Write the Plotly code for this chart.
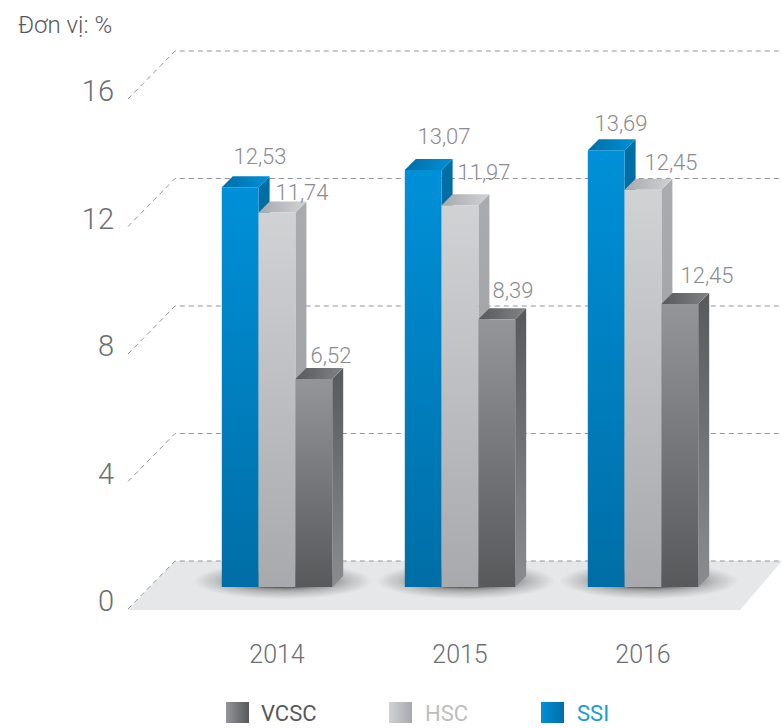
import math
import plotly.graph_objects as go

years = ["2014", "2015", "2016"]
ssi = [12.53, 13.07, 13.69]
hsc = [11.74, 11.97, 12.45]
vcsc = [6.52, 8.39, 8.87]
ssi_labels = ["12,53", "13,07", "13,69"]
hsc_labels = ["11,74", "11,97", "12,45"]
vcsc_labels = ["6,52", "8,39", "12,45"]
y_ticks = [0, 4, 8, 12, 16]

W, H = 782, 728
PX_Y = 31.9
PX_X = 183.0
X0_PX, Y0_PX = 277.0, 587.0
FONT = "Roboto, sans-serif"

# where each value label sits in the picture, in pixels
label_x_px = [260, 444, 621, 302, 484, 671, 331, 513, 707]
label_y_px = [158, 138, 125, 194, 174, 164, 357, 292, 277]

def dx(px):
    return px / PX_X
def dy(px):
    return px / PX_Y
def X(px):
    return (px - X0_PX) / PX_X
def Y(px):
    return (Y0_PX - px) / PX_Y

fig = go.Figure()

def poly(xs, ys, colors=None, solid=None, orient="vertical"):
    kw = dict(x=xs + xs[:1], y=ys + ys[:1], mode="lines", fill="toself",
              line=dict(width=0), hoverinfo="skip", showlegend=False)
    if colors:
        kw["fillgradient"] = dict(type=orient, colorscale=[[0, colors[0]], [1, colors[1]]])
        kw["fillcolor"] = "rgba(0,0,0,0)"
    else:
        kw["fillcolor"] = solid
    fig.add_trace(go.Scatter(**kw))

# floor
poly([X(128), X(175), X(782), X(740)], [Y(610), Y(561), Y(561), Y(610)], solid="#e6e7e8")

# back wall grid with diagonal returns
for t in y_ticks:
    back = Y(561) + t * (PX_Y - 0.025) / PX_Y
    fig.add_trace(go.Scatter(
        x=[X(128), X(175), X(782)],
        y=[back - dy(48), back, back],
        mode="lines", line=dict(color="#939598", width=1, dash="5px,4px"),
        hoverinfo="skip", showlegend=False))

# soft shadows below each group
for i in range(len(years)):
    cx = i + dx(6)
    cy = Y(581)
    n = 40
    for k in range(n):
        f = (1 - k / n) ** 3
        rx = dx(46 + 42 * f)
        ry = dy(7 + 11 * f)
        pts = [j * 2 * math.pi / 60 for j in range(60)]
        poly([cx + rx * math.cos(a) for a in pts], [cy + ry * math.sin(a) for a in pts],
             solid="rgba(40,40,40,0.024)")

# bars drawn back to front within each group
BAR_W = dx(36.8)
DEPTH_X, DEPTH_Y = dx(11), dy(11)
series = [
    (ssi, -1.5, ("#006ea6", "#0090d8"), ("#006ea6", "#0090d8"), ("#00689c", "#006ea6")),
    (hsc, -0.5, ("#a7a9ac", "#d1d2d4"), ("#a7a9ac", "#d1d2d4"), ("#9a9c9f", "#a9abae")),
    (vcsc, 0.5, ("#58595b", "#939598"), ("#58595b", "#818386"), ("#8a8c8f", "#58595b")),
]
for i in range(len(years)):
    for vals, off, front, top, side in series:
        v = vals[i]
        x0 = i + off * BAR_W
        x1 = x0 + BAR_W
        poly([x1, x1 + DEPTH_X, x1 + DEPTH_X, x1], [0, DEPTH_Y, v + DEPTH_Y, v], colors=side)
        poly([x0, x0 + DEPTH_X, x1 + DEPTH_X, x1], [v, v + DEPTH_Y, v + DEPTH_Y, v],
             colors=top, orient="horizontal")
        poly([x0, x1, x1, x0], [0, 0, v, v], colors=front)

# value labels
label_t = ssi_labels + hsc_labels + vcsc_labels
fig.add_trace(go.Scatter(x=[X(p) for p in label_x_px], y=[Y(p) for p in label_y_px],
                         text=label_t, mode="text",
                         textfont=dict(family=FONT, size=22, color="#8a8c8f", weight=300),
                         hoverinfo="skip", showlegend=False))

# tick-only trace for the offset value axis
fig.add_trace(go.Scatter(x=[0], y=[0], yaxis="y2", mode="markers", marker=dict(opacity=0),
                         hoverinfo="skip", showlegend=False))

# legend swatches
legend = [("VCSC", 226, 259, "#58595b", ("#939598", "#58595b"), 400),
          ("HSC", 389, 423, "#bcbec0", ("#d1d2d4", "#a7a9ac"), 400),
          ("SSI", 541, 575, "#1a9ad6", ("#0090d8", "#006ea6"), 400)]
for name, sx, tx, tc, grad, wt in legend:
    poly([X(sx), X(sx + 23), X(sx + 23), X(sx)], [Y(723), Y(723), Y(702), Y(702)], colors=grad,
         orient="horizontal")
    fig.add_annotation(x=tx / W, y=1 - 713 / H, xref="paper", yref="paper", text=name,
                       xanchor="left", yanchor="middle", showarrow=False,
                       font=dict(family=FONT, size=22, color=tc, weight=wt))

fig.add_annotation(x=16 / W, y=1 - 25 / H, xref="paper", yref="paper", text="Đơn vị: %",
                   xanchor="left", yanchor="middle", showarrow=False,
                   font=dict(family=FONT, size=24, color="#58595b", weight=300))

y2_per = (600 - 90) / 16
fig.update_layout(
    width=W, height=H, margin=dict(l=0, r=0, t=0, b=0),
    paper_bgcolor="white", plot_bgcolor="white",
    xaxis=dict(range=[X(0), X(W)], domain=[0, 1], anchor="free", position=1 - 637 / H, side="bottom",
               tickvals=list(range(len(years))), ticktext=years, showgrid=False, zeroline=False,
               showline=False, ticks="", tickfont=dict(family=FONT, size=25, color="#6d6e71", weight=300)),
    yaxis=dict(range=[Y(H), Y(0)], domain=[0, 1], visible=False),
    yaxis2=dict(range=[(601 - H) / y2_per, 601 / y2_per], domain=[0, 1], overlaying="y",
                anchor="free", position=114 / W, side="left", tickvals=y_ticks,
                showgrid=False, zeroline=False, showline=False, ticks="",
                tickfont=dict(family=FONT, size=29, color="#6d6e71", weight=300)),
)
fig.write_html("out.html", config={"displayModeBar": False},
               post_script="document.body.style.margin='0';document.body.style.overflow='hidden';")
